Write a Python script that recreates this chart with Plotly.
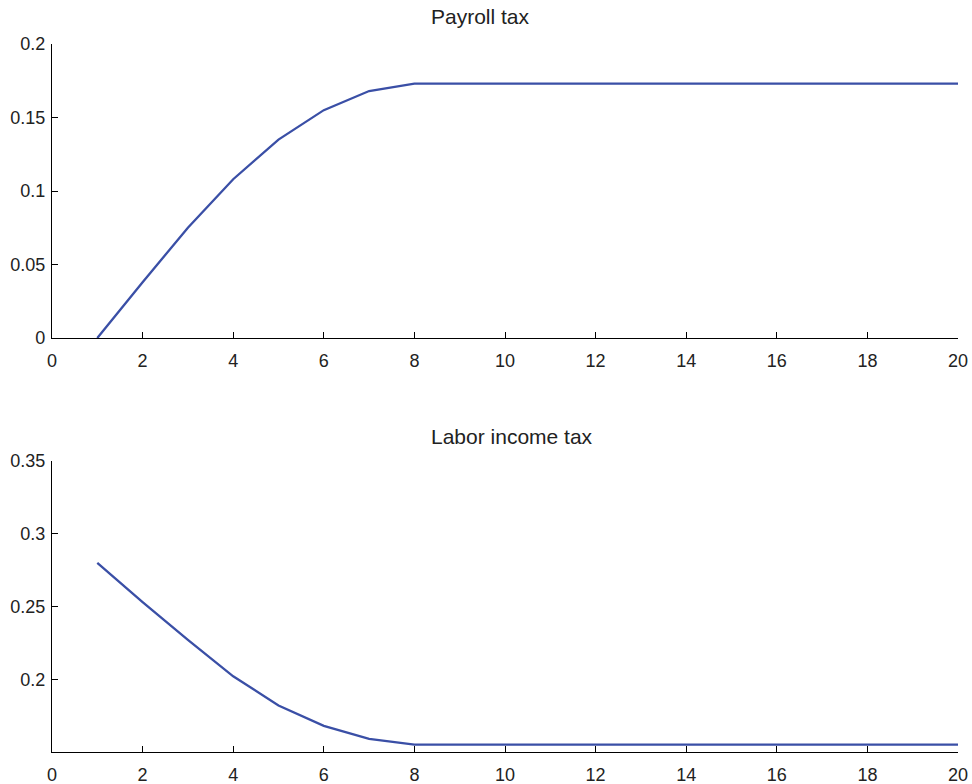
import plotly.graph_objects as go
from plotly.subplots import make_subplots

# Time periods and tax-rate paths
periods = list(range(1, 21))
payroll_tax = [0.0, 0.038, 0.075, 0.108, 0.135, 0.155, 0.168, 0.173,
               0.173, 0.173, 0.173, 0.173, 0.173, 0.173, 0.173, 0.173,
               0.173, 0.173, 0.173, 0.173]
labor_income_tax = [0.280, 0.253, 0.227, 0.202, 0.182, 0.168, 0.159, 0.155,
                    0.155, 0.155, 0.155, 0.155, 0.155, 0.155, 0.155, 0.155,
                    0.155, 0.155, 0.155, 0.155]

x_ticks = list(range(0, 21, 2))
top_y_ticks = [0, 0.05, 0.1, 0.15, 0.2]
top_y_labels = ["0", "0.05", "0.1", "0.15", "0.2"]
bottom_y_ticks = [0.2, 0.25, 0.3, 0.35]
bottom_y_labels = ["0.2", "0.25", "0.3", "0.35"]

LINE_COLOR = "#3a4fa6"
FONT = "Liberation Sans, Arial, Helvetica, sans-serif"
TEXT_COLOR = "#222"

fig = make_subplots(rows=2, cols=1)

fig.add_trace(go.Scatter(x=periods, y=payroll_tax, mode="lines",
                         line=dict(color=LINE_COLOR, width=2.3),
                         showlegend=False), row=1, col=1)
fig.add_trace(go.Scatter(x=periods, y=labor_income_tax, mode="lines",
                         line=dict(color=LINE_COLOR, width=2.3),
                         showlegend=False), row=2, col=1)

axis_common = dict(showline=True, linecolor="black", linewidth=1.3,
                   ticks="inside", ticklen=6, tickwidth=1.2, tickcolor="black",
                   showgrid=False, zeroline=False, mirror=False,
                   automargin=False,
                   tickfont=dict(family=FONT, size=18, color=TEXT_COLOR))

fig.update_xaxes(range=[0, 20], tickvals=x_ticks, ticklabelstandoff=6,
                 **axis_common)
fig.update_yaxes(ticklabelstandoff=2, **axis_common)
fig.update_yaxes(range=[0, 0.2], tickvals=top_y_ticks, ticktext=top_y_labels,
                 row=1, col=1)
fig.update_yaxes(range=[0.15, 0.35], tickvals=bottom_y_ticks,
                 ticktext=bottom_y_labels, row=2, col=1)

# Plot area spans x 52..958 px; titles start at the same horizontal position
title_x = (429 - 52) / 906

fig.update_layout(
    width=972, height=784,
    margin=dict(l=52, r=14, t=44, b=32),
    plot_bgcolor="white", paper_bgcolor="white",
    xaxis=dict(domain=[0, 1]),
    yaxis=dict(domain=[0.5847, 1.0]),
    xaxis2=dict(domain=[0, 1]),
    yaxis2=dict(domain=[0.0, 0.411]),
    annotations=[
        dict(text="Payroll tax", x=title_x, y=1.0, xref="paper", yref="paper",
             xanchor="left", yanchor="bottom", yshift=14, showarrow=False,
             font=dict(family=FONT, size=21, color=TEXT_COLOR)),
        dict(text="Labor income tax", x=title_x, y=0.411, xref="paper",
             yref="paper", xanchor="left", yanchor="bottom", yshift=11,
             showarrow=False, font=dict(family=FONT, size=21, color=TEXT_COLOR)),
    ],
)

fig.write_html("out.html")
